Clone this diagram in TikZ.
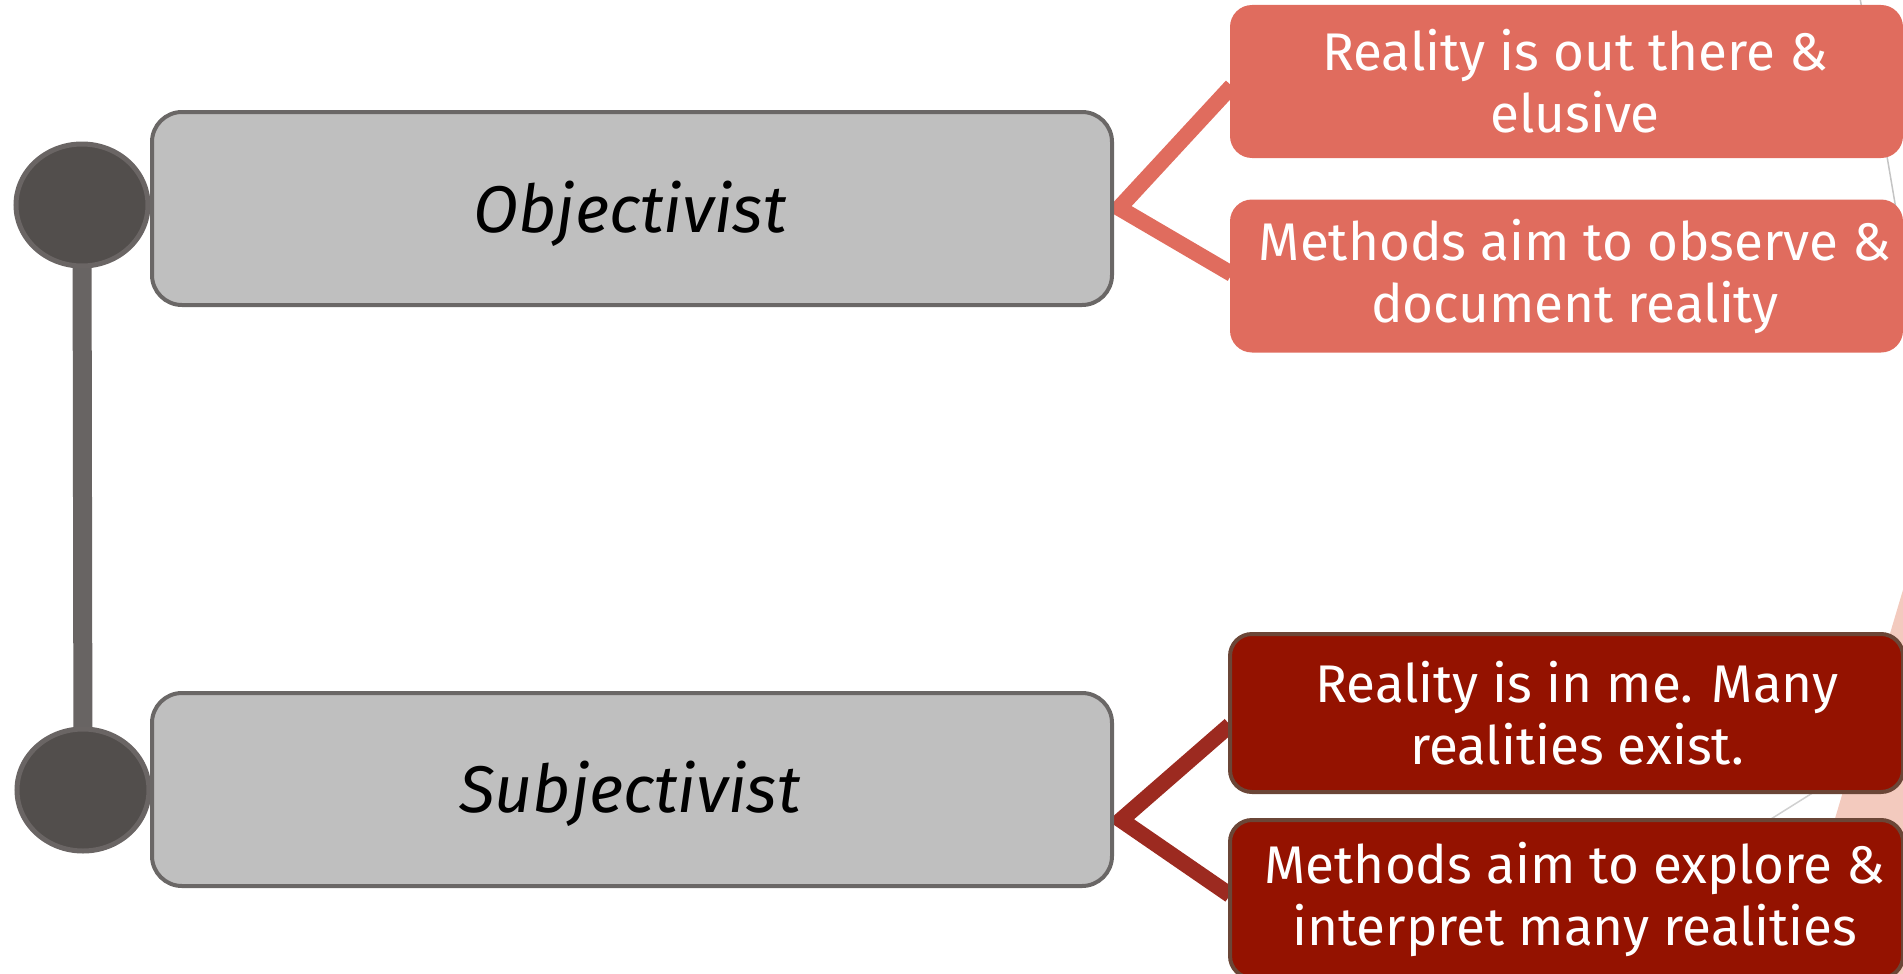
\documentclass[tikz,border=0pt]{standalone}
\usepackage{fontspec}
\setmainfont{Fira Sans}
\usetikzlibrary{shapes.geometric,calc,backgrounds}
\definecolor{salmon}{HTML}{E06C5E}
\definecolor{darkred}{HTML}{941200}
\definecolor{darkredborder}{HTML}{6B4637}
\definecolor{darkconn}{HTML}{9C2A20}
\definecolor{boxgray}{HTML}{BFBFBF}
\definecolor{boxborder}{HTML}{6A6766}
\definecolor{circfill}{HTML}{524E4C}
\definecolor{circborder}{HTML}{6A6564}
\definecolor{stemgray}{HTML}{686463}
\definecolor{pinkbg}{HTML}{F3CABE}
\definecolor{thinline}{HTML}{C4C4C4}
\tikzset{
  graybox/.style={draw=boxborder, line width=4pt, fill=boxgray, rounded corners=30pt,
    minimum width=960pt, minimum height=193pt, inner sep=0pt},
  lightbox/.style={fill=salmon, rounded corners=22pt, minimum width=673pt,
    minimum height=153pt, inner sep=0pt},
  darkbox/.style={draw=darkredborder, line width=4pt, fill=darkred, rounded corners=22pt,
    minimum width=673pt, minimum height=158pt, inner sep=0pt},
  whitetext/.style={text=white, align=center, inner sep=0pt,
    font=\fontsize{53}{62}\selectfont},
  graytext/.style={text=black, inner sep=0pt, font=\fontsize{66}{78}\selectfont\itshape},
  dot/.style={ellipse, draw=circborder, line width=5pt, fill=circfill,
    minimum width=132pt, minimum height=122pt, inner sep=0pt},
  conn/.style={line width=16pt, line join=miter},
}
\begin{document}
\begin{tikzpicture}[x=1pt,y=-1pt]
\useasboundingbox (0,0) rectangle (1903,974);
\clip (0,0) rectangle (1903,974);
% circles
\node[dot] (c1) at (82,205) {};
\node[dot] (c2) at (83,790) {};
% gray boxes
\node[graybox] (obj) at (632,208.5) {};
\node[graytext, anchor=base] (objt) at (630,232) {Objectivist};
\node[graybox] (sub) at (632,789.5) {};
\node[graytext, anchor=base] (subt) at (630,812) {Subjectivist};
% right boxes
\node[lightbox] (b1) at (1566.5,81.5) {};
\node[lightbox] (b2) at (1566.5,276) {};
\node[darkbox] (b3) at (1566.5,713) {};
\node[darkbox] (b4) at (1566.5,899) {};
% texts
\node[whitetext] (t1) at (1575,81.5) {Reality is out there \&\\elusive};
\node[whitetext] (t2) at (1575,276) {Methods aim to observe \&\\document reality};
\node[whitetext] (t3) at (1577,713) {Reality is in me. Many\\realities exist.};
\node[whitetext] (t4) at (1575,899) {Methods aim to explore \&\\interpret many realities};
% connectors and background decoration
\coordinate (j1) at (1119,208);
\coordinate (j2) at (1121,820);
\begin{scope}[on background layer]
  \fill[pinkbg] (1905,583) -- (1787,980) -- (1905,980) -- cycle;
  \draw[thinline, line width=1.5pt] (1860,-2) -- (1905,262);
  \draw[thinline!80, line width=1.5pt] (1755,829) -- (1905,735);
  \draw[stemgray, line width=19pt] (c1.center) -- (c2.center);
  \draw[conn, salmon] ($(b1.west)+(2,4.5)$) -- (j1) -- ($(b2.west)+(2,-2)$);
  \draw[conn, darkconn] ($(b3.west)+(2,12)$) -- (j2) -- ($(b4.west)+(2,-4)$);
\end{scope}
\end{tikzpicture}
\end{document}
